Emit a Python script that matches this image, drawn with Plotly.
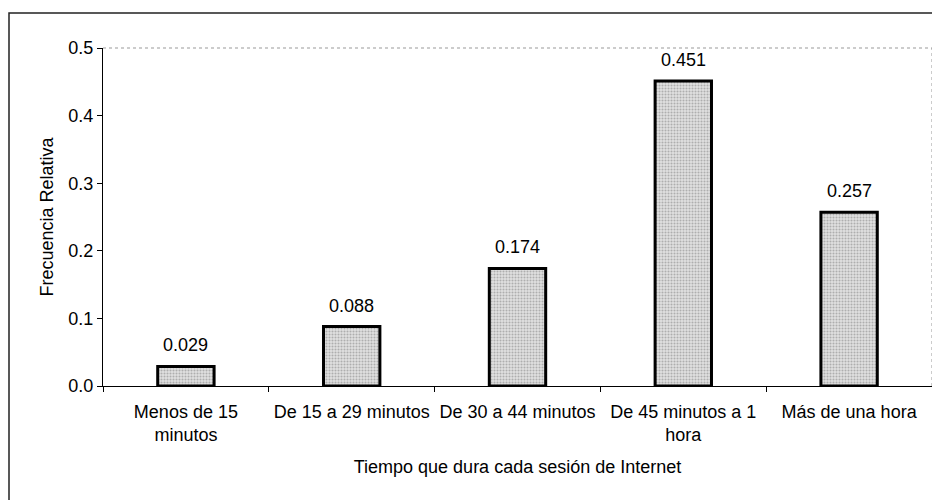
import plotly.graph_objects as go

categorias = ["Menos de 15<br>minutos", "De 15 a 29 minutos", "De 30 a 44 minutos",
              "De 45 minutos a 1<br>hora", "Más de una hora"]
frecuencia = [0.029, 0.088, 0.174, 0.451, 0.257]
etiquetas = ["0.029", "0.088", "0.174", "0.451", "0.257"]

# la pagina desplaza el grafico 8px (margen del body)
off = 8
W, H = 940, 500
ml, mr, mt, mb = 103 - off, W - 932 + off, 48 - off, H - 386 + off
pw, ph = W - ml - mr, H - mt - mb

fuente = "Liberation Sans, Arial"

fig = go.Figure()
fig.add_trace(go.Bar(
    x=categorias, y=frecuencia,
    marker=dict(color="#dcdcdc", line=dict(color="black", width=3),
                pattern=dict(shape=".", size=3, solidity=0.4,
                             fgcolor="#7a7a7a", bgcolor="#e2e2e2")),
))

# etiquetas de datos sobre las barras
for c, v, t in zip(categorias, frecuencia, etiquetas):
    fig.add_annotation(x=c, y=v, text=t, showarrow=False, yanchor="bottom",
                       yshift=9, font=dict(size=18, color="black", family=fuente))

def px_x(v):
    return (v - off - ml) / pw

def px_y(v):
    return (H - mb - (v - off)) / ph

# marco exterior (el borde inferior queda fuera de la imagen)
fig.add_shape(type="rect", xref="paper", yref="paper",
              x0=px_x(9), x1=px_x(937), y0=px_y(506), y1=px_y(13),
              line=dict(color="#222", width=1.5))
# borde punteado del area de trazado
fig.add_shape(type="line", xref="paper", yref="paper", x0=0, x1=1, y0=1, y1=1,
              line=dict(color="#999", width=1, dash="dot"))
fig.add_shape(type="line", xref="paper", yref="paper", x0=1, x1=1, y0=0, y1=1,
              line=dict(color="#999", width=1, dash="dot"))

fig.update_layout(
    width=W, height=H, margin=dict(l=ml, r=mr, t=mt, b=mb),
    plot_bgcolor="white", paper_bgcolor="white",
    font=dict(family=fuente, size=18, color="black"),
    bargap=0.66, showlegend=False,
    xaxis=dict(showline=True, linecolor="black", linewidth=1, ticks="outside",
               tickson="boundaries", ticklen=5, tickcolor="black", tickangle=0,
               tickfont=dict(size=18), showgrid=False, ticklabelstandoff=9,
               title=dict(text="Tiempo que dura cada sesión de Internet",
                          font=dict(size=18), standoff=16)),
    yaxis=dict(range=[0, 0.5], dtick=0.1, tickformat=".1f", showline=True,
               linecolor="black", linewidth=1, ticks="outside", ticklen=5,
               tickcolor="black", showgrid=False, zeroline=False,
               tickfont=dict(size=18),
               title=dict(text="Frecuencia Relativa", font=dict(size=18), standoff=10)),
)

fig.write_html("out.html")
